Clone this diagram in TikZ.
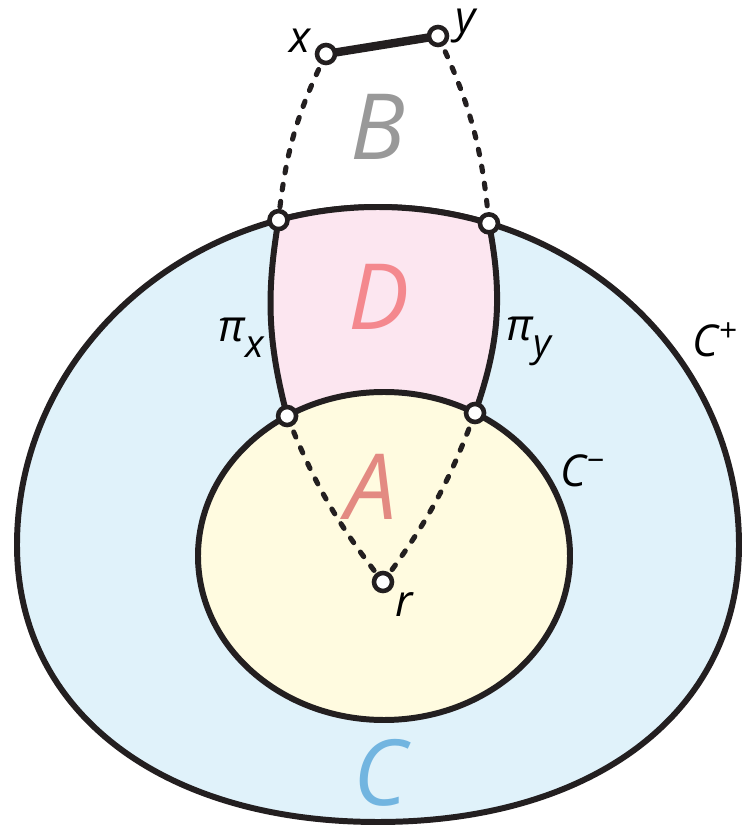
\documentclass[tikz,border=0pt]{standalone}
\usepackage{fontspec}
\setmainfont{Open Sans}
\usetikzlibrary{calc}
\definecolor{outerfill}{HTML}{E0F2FA}
\definecolor{innerfill}{HTML}{FFFBE0}
\definecolor{dfill}{HTML}{FCE6F0}
\definecolor{ink}{HTML}{231F20}
\definecolor{btext}{HTML}{999999}
\definecolor{dtext}{HTML}{F4888E}
\definecolor{atext}{HTML}{E38A82}
\definecolor{ctext}{HTML}{72B5E0}

\begin{document}
\begin{tikzpicture}[
    edge/.style={draw=ink, line width=1.7pt},
    dashln/.style={draw=ink, line width=1.45pt, line cap=round, dash pattern=on 1.6pt off 3.3pt},
    vtx/.style={draw=ink, fill=white, line width=1.3pt},
    big/.style={font=\fontsize{26}{26}\selectfont\itshape, anchor=base, inner sep=0pt},
    small/.style={font=\fontsize{12.5}{12.5}\selectfont\itshape, inner sep=0pt}
  ]
        \useasboundingbox (0,0) rectangle (7.42,8.31);

        % centres of C+ (upper half an ellipse, lower half flatter) and of C-
        \coordinate (Oc) at (3.78,2.86);
        \coordinate (Ic) at (3.84,2.75);

        \coordinate (X) at (3.26,7.77);
        \coordinate (Y) at (4.38,7.95);
        \coordinate (R) at (3.83,2.49);

        % points where pi_x, pi_y meet C+ and C-
        \path (Oc) ++(106:3.61 and 3.38) coordinate (PxT);
        \path (Oc) ++(72.1:3.61 and 3.38) coordinate (PyT);
        \path (Ic) ++(121.4:1.86 and 1.64) coordinate (PxB);
        \path (Ic) ++(60.7:1.86 and 1.64) coordinate (PyB);

        % C+
        \filldraw[edge, fill=outerfill] (Oc) ++(180:3.61)
            arc[start angle=180, end angle=0, x radius=3.61, y radius=3.38]
            .. controls +(0,-1.66) and +(2.17,0) .. ($(Oc)+(0,-2.77)$)
            .. controls +(-2.17,0) and +(0,-1.66) .. cycle;

        % D
        \fill[dfill] (PxT) arc[start angle=106, end angle=72.1, x radius=3.61, y radius=3.38]
            to[bend left=15] (PyB)
            arc[start angle=60.7, end angle=121.4, x radius=1.86, y radius=1.64]
            to[bend left=12] (PxT) -- cycle;
        \draw[edge] (PxT) arc[start angle=106, end angle=72.1, x radius=3.61, y radius=3.38];

        % C-
        \filldraw[edge, fill=innerfill] (Ic) ellipse[x radius=1.86, y radius=1.64];

        % pi_x, pi_y
        \draw[edge] (PxB) to[bend left=12] (PxT);
        \draw[edge] (PyT) to[bend left=15] (PyB);

        \draw[dashln] (X) to[bend right=10] (PxT);
        \draw[dashln] (Y) to[bend left=10] (PyT);
        \draw[dashln] (PxB) to[bend right=8] (R);
        \draw[dashln] (PyB) to[bend left=8] (R);

        \draw[ink, line width=2.4pt] (X) -- (Y);

        \foreach \p in {X,Y,R,PxT,PyT,PxB,PyB}
            \filldraw[vtx] (\p) circle (0.09);

        \node[big, text=btext] (lblB) at (3.78,6.71) {B};
        \node[big, text=dtext] (lblD) at (3.79,5.01) {D};
        \node[big, text=atext] (lblA) at (3.71,3.11) {A};
        \node[big, text=ctext] (lblC) at (3.80,0.26) {C};

        \node[small, anchor=base] (lblx) at (3.00,7.78) {x};
        \node[small, anchor=base] (lbly) at (4.66,7.98) {y};
        \node[small, anchor=base west] (lblr) at (3.95,2.14) {r};
        \node[small, anchor=base west] (lblpx) at (2.18,4.89) {π\raisebox{-4.5pt}{\fontsize{11}{11}\selectfont x}};
        \node[small, anchor=base west] (lblpy) at (5.06,4.90) {π\raisebox{-4.5pt}{\fontsize{11}{11}\selectfont y}};
        \node[small, anchor=base west] (lblCp) at (6.92,4.74) {C\raisebox{4.5pt}{\fontsize{9}{9}\selectfont +}};
        \node[small, anchor=base west] (lblCm) at (5.60,3.44) {C\raisebox{4.5pt}{\fontsize{9}{9}\selectfont −}};
    \end{tikzpicture}
\end{document}
